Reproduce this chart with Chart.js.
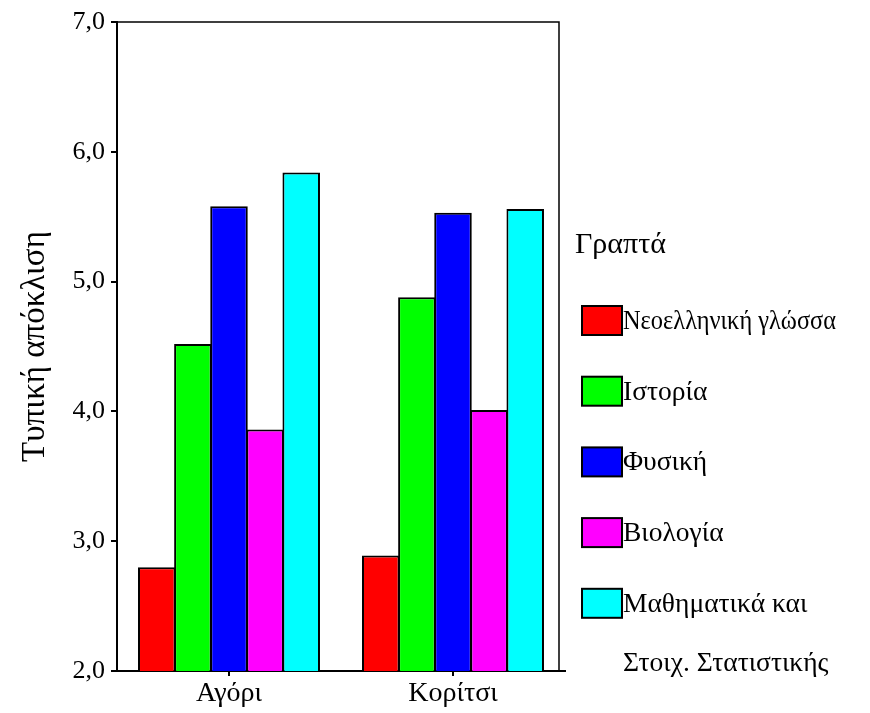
<!DOCTYPE html>
<html>
<head>
<meta charset="utf-8">
<script src="https://cdn.jsdelivr.net/npm/chart.js@4/dist/chart.umd.min.js"></script>
<style>
html,body{margin:0;padding:0;background:#fff;}
#wrap{width:870px;height:713px;position:relative;}
</style>
</head>
<body>
<div id="wrap"><canvas id="c" width="870" height="713"></canvas></div>
<script>
const categories = ['Αγόρι', 'Κορίτσι'];
const seriesLabels = ['Νεοελληνική γλώσσα', 'Ιστορία', 'Φυσική', 'Βιολογία', 'Μαθηματικά και Στοιχ. Στατιστικής'];
const seriesColors = ['#FF0000', '#00FF00', '#0000FF', '#FF00FF', '#00FFFF'];
const neoellinika = [2.80, 2.89];
const istoria = [4.52, 4.88];
const fysiki = [5.58, 5.53];
const viologia = [3.86, 4.01];
const mathimatika = [5.84, 5.56];
const yTicks = [2, 3, 4, 5, 6, 7];
const yTitle = 'Τυπική απόκλιση';
const legendTitle = 'Γραπτά';

const FONT = "'Liberation Serif', 'Times New Roman', serif";
const seriesValues = [neoellinika, istoria, fysiki, viologia, mathimatika];

const framePlugin = {
  id: 'frame',
  afterDraw(chart) {
    const {ctx, chartArea: a} = chart;
    const r = a.right - 6;
    ctx.save();
    ctx.strokeStyle = '#000';
    ctx.lineWidth = 1.5;
    ctx.beginPath();
    ctx.moveTo(a.left, a.top);
    ctx.lineTo(r, a.top);
    ctx.lineTo(r, a.bottom);
    ctx.stroke();
    ctx.restore();
  }
};

const legendPlugin = {
  id: 'customLegend',
  afterDraw(chart) {
    const {ctx, chartArea: a} = chart;
    const r = a.right - 6;
    ctx.save();
    ctx.fillStyle = '#000';
    ctx.textBaseline = 'alphabetic';
    ctx.font = '30px ' + FONT;
    ctx.fillText(legendTitle, r + 16, 253);
    ctx.font = '27.5px ' + FONT;
    const boxX = r + 23, boxW = 40, boxH = 29;
    const textX = boxX + boxW + 1;
    const wrapW = 245, fitW = 213;
    chart.data.datasets.forEach((ds, i) => {
      const boxTop = 306 + i * 70.7;
      ctx.fillStyle = ds.backgroundColor;
      ctx.fillRect(boxX, boxTop, boxW, boxH);
      ctx.strokeStyle = '#000';
      ctx.lineWidth = 2;
      ctx.strokeRect(boxX, boxTop, boxW, boxH);
      ctx.fillStyle = '#000';
      const words = ds.label.split(' ');
      const lines = [];
      let cur = '';
      words.forEach(w => {
        const t = cur ? cur + ' ' + w : w;
        if (ctx.measureText(t).width > wrapW && cur) { lines.push(cur); cur = w; }
        else cur = t;
      });
      if (cur) lines.push(cur);
      lines.forEach((ln, j) => {
        ctx.fillText(ln, textX, boxTop + 23 + j * 59, fitW);
      });
    });
    ctx.restore();
  }
};

new Chart(document.getElementById('c'), {
  type: 'bar',
  data: {
    labels: categories,
    datasets: seriesLabels.map((lab, i) => ({
      label: lab,
      data: seriesValues[i],
      backgroundColor: seriesColors[i],
      borderColor: '#000',
      borderWidth: 2,
      borderSkipped: 'start',
      categoryPercentage: 0.806,
      barPercentage: 1.04
    }))
  },
  options: {
    responsive: false,
    animation: false,
    devicePixelRatio: 1,
    layout: { padding: { top: 22, right: 305, left: 0, bottom: 0 } },
    plugins: { legend: { display: false }, tooltip: { enabled: false } },
    scales: {
      x: {
        grid: { display: true, drawOnChartArea: false, drawTicks: true, tickLength: 5, offset: false, color: '#000', lineWidth: 2 },
        border: { display: true, color: '#000', width: 2 },
        ticks: { color: '#000', font: { family: FONT, size: 28 }, padding: 1 },
        afterFit(scale) { scale.height = 42; }
      },
      y: {
        min: 2, max: 7,
        afterBuildTicks(scale) { scale.ticks = yTicks.map(v => ({ value: v })); },
        grid: { display: true, drawOnChartArea: false, drawTicks: true, tickLength: 6, color: '#000', lineWidth: 2 },
        border: { display: true, color: '#000', width: 2 },
        ticks: {
          color: '#000', font: { family: FONT, size: 26 }, padding: 6,
          callback: v => Number(v).toFixed(1).replace('.', ',')
        },
        title: { display: true, text: yTitle, color: '#000', font: { family: FONT, size: 33 }, padding: { top: 16, bottom: 0 } },
        afterFit(scale) { scale.width = 117; }
      }
    }
  },
  plugins: [framePlugin, legendPlugin]
});
</script>
</body>
</html>
